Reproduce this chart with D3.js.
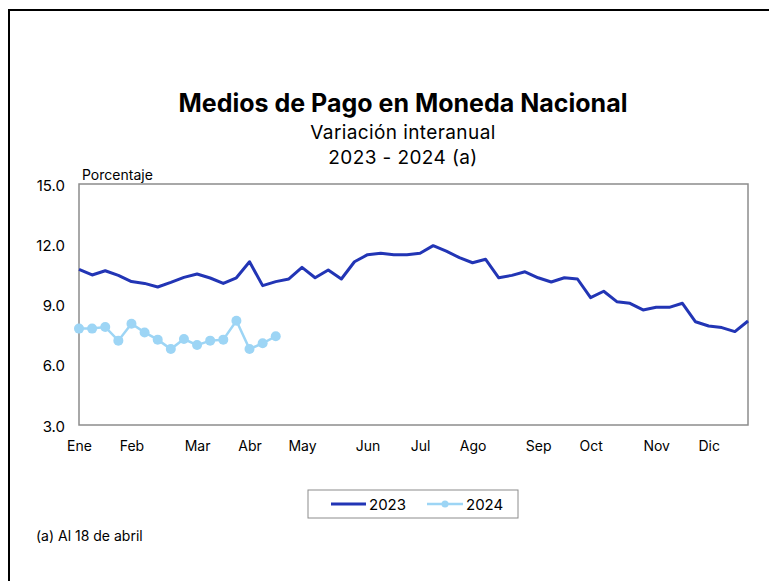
<!DOCTYPE html>
<html>
<head>
<meta charset="utf-8">
<script src="https://cdn.jsdelivr.net/npm/d3@7"></script>
<style>
  body { margin: 0; background: #fff; }
  text { font-family: Inter, "Noto Sans", sans-serif; fill: #000; }
</style>
</head>
<body>
<svg id="chart" width="769" height="581"></svg>
<script>
// weekly values, % year-on-year
const values2023 = [10.75, 10.47, 10.68, 10.45, 10.14, 10.05, 9.87, 10.1, 10.35, 10.52,
  10.32, 10.05, 10.33, 11.13, 9.94, 10.14, 10.27, 10.85, 10.33, 10.72,
  10.27, 11.13, 11.48, 11.55, 11.48, 11.48, 11.55, 11.93, 11.66, 11.33,
  11.08, 11.25, 10.33, 10.45, 10.63, 10.33, 10.12, 10.33, 10.27, 9.34,
  9.66, 9.14, 9.06, 8.73, 8.86, 8.86, 9.06, 8.14, 7.93, 7.85,
  7.65, 8.18];
const values2024 = [7.8, 7.8, 7.88, 7.2, 8.04, 7.61, 7.25, 6.78, 7.28, 6.98,
  7.2, 7.25, 8.19, 6.78, 7.07, 7.42];
const monthLabels = ["Ene", "Feb", "Mar", "Abr", "May", "Jun", "Jul", "Ago", "Sep", "Oct", "Nov", "Dic"];
const monthWeek = [0, 4, 9, 13, 17, 22, 26, 30, 35, 39, 44, 48];
const yTicks = [3, 6, 9, 12, 15];

const svg = d3.select('#chart');

// outer frame (top + left edge)
svg.append('path')
  .attr('d', 'M9,581V10H769')
  .attr('fill', 'none')
  .attr('stroke', '#000')
  .attr('stroke-width', 2);

const plotL = 79, plotR = 748, plotT = 184, plotB = 425;

const x = d3.scaleLinear().domain([0, values2023.length - 1]).range([plotL, plotR]);
const y = d3.scaleLinear().domain([3, 15]).range([plotB, plotT]);

// titles
svg.append('text').attr('x', 403).attr('y', 112).attr('text-anchor', 'middle')
  .attr('font-size', 25).attr('font-weight', 700)
  .text('Medios de Pago en Moneda Nacional');
svg.append('text').attr('x', 403).attr('y', 139).attr('text-anchor', 'middle')
  .attr('font-size', 19).attr('letter-spacing', 0.4).text('Variación interanual');
svg.append('text').attr('x', 403).attr('y', 164).attr('text-anchor', 'middle')
  .attr('font-size', 19).attr('letter-spacing', 0.4).text('2023 - 2024 (a)');

svg.append('text').attr('x', 82).attr('y', 180).attr('font-size', 14).text('Porcentaje');

// plot area border
svg.append('rect')
  .attr('x', plotL).attr('y', plotT)
  .attr('width', plotR - plotL).attr('height', plotB - plotT)
  .attr('fill', 'none').attr('stroke', '#8c8c8c').attr('stroke-width', 1.5);

// y axis labels
const yAxis = svg.append('g')
  .attr('transform', `translate(${plotL},0)`)
  .call(d3.axisLeft(y).tickValues(yTicks).tickFormat(d3.format('.1f')).tickSize(0).tickPadding(14));
yAxis.select('.domain').remove();
yAxis.selectAll('text').attr('font-size', 15).attr('font-family', 'Inter, sans-serif').attr('dy', '0.4em');

// x axis month labels
const xAxis = svg.append('g')
  .attr('transform', `translate(0,${plotB})`)
  .call(d3.axisBottom(x).tickValues(monthWeek).tickFormat((d, i) => monthLabels[i]).tickSize(0).tickPadding(16));
xAxis.select('.domain').remove();
xAxis.selectAll('text').attr('font-size', 14).attr('font-family', 'Inter, sans-serif');

const line = d3.line().x((d, i) => x(i)).y(d => y(d));

svg.append('path')
  .datum(values2023)
  .attr('fill', 'none')
  .attr('stroke', '#2235b5')
  .attr('stroke-width', 3)
  .attr('stroke-linejoin', 'round')
  .attr('d', line);

svg.append('path')
  .datum(values2024)
  .attr('fill', 'none')
  .attr('stroke', '#9dd5f5')
  .attr('stroke-width', 2.5)
  .attr('d', line);

svg.selectAll('.dot24')
  .data(values2024)
  .enter().append('circle')
  .attr('class', 'dot24')
  .attr('cx', (d, i) => x(i))
  .attr('cy', d => y(d))
  .attr('r', 5)
  .attr('fill', '#9dd5f5');

// legend
const lg = svg.append('g');
lg.append('rect').attr('x', 308).attr('y', 490).attr('width', 210).attr('height', 28)
  .attr('fill', '#fff').attr('stroke', '#8c8c8c').attr('stroke-width', 1);
lg.append('line').attr('x1', 331).attr('x2', 366).attr('y1', 504).attr('y2', 504)
  .attr('stroke', '#2235b5').attr('stroke-width', 3);
lg.append('text').attr('x', 369).attr('y', 509.5).attr('font-size', 15).text('2023');
lg.append('line').attr('x1', 427).attr('x2', 463).attr('y1', 504).attr('y2', 504)
  .attr('stroke', '#9dd5f5').attr('stroke-width', 2.5);
lg.append('circle').attr('cx', 445).attr('cy', 504).attr('r', 3.5).attr('fill', '#9dd5f5');
lg.append('text').attr('x', 466).attr('y', 509.5).attr('font-size', 15).text('2024');

svg.append('text').attr('x', 36).attr('y', 541).attr('font-size', 14).text('(a) Al 18 de abril');
</script>
</body>
</html>
